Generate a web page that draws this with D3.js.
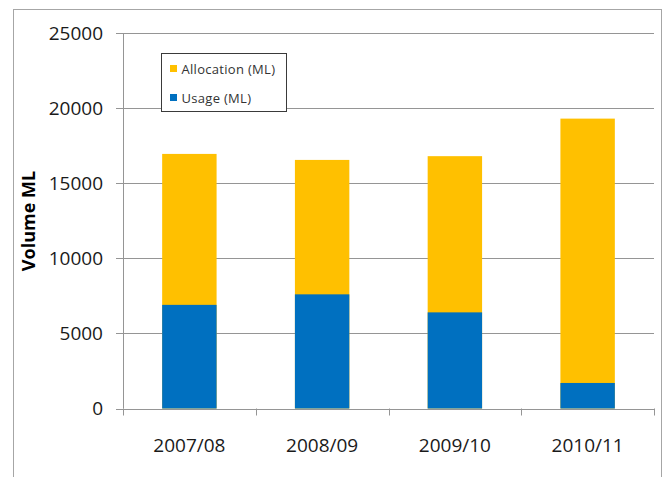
<!DOCTYPE html>
<html>
<head>
<meta charset="utf-8">
<script src="https://cdn.jsdelivr.net/npm/d3@7"></script>
<style>
	body { margin: 0; background: #fff; }
	svg { display: block; font-family: "Open Sans", sans-serif; }
</style>
</head>
<body>
<svg id="chart" width="669" height="477"></svg>
<script>
var years = ["2007/08", "2008/09", "2009/10", "2010/11"];
var allocation = [16950, 16550, 16800, 19300];
var usage = [6900, 7600, 6400, 1700];
var yTicks = [0, 5000, 10000, 15000, 20000, 25000];
var legendNames = ["Allocation (ML)", "Usage (ML)"];

function chart(){
	var svg = d3.select("#chart");

	var margin = {top: 33, left: 123, right: 15, bottom: 68.5},
	width = 654 - margin.left,
	height = 408.5 - margin.top;

	// outer frame
	svg.append("rect")
	.attr("x", 13.5).attr("y", 9.5)
	.attr("width", 648).attr("height", 500)
	.attr("fill", "none")
	.attr("stroke", "#a6a6a6");

	var g = svg.append("g")
	.attr("transform", "translate(" + margin.left + "," + margin.top + ")");

	var x = d3.scaleBand()
	.domain(years)
	.range([0, width])
	.paddingInner(0.59)
	.paddingOuter(0.295);

	var y = d3.scaleLinear()
	.domain([0, 25000])
	.range([height, 0]);

	// gridlines
	g.selectAll(".grid")
	.data(yTicks)
	.enter().append("line")
	.attr("x1", -7).attr("x2", width)
	.attr("y1", function(d) { return Math.round(y(d)) + 0.5; })
	.attr("y2", function(d) { return Math.round(y(d)) + 0.5; })
	.attr("stroke", "#959595");

	g.selectAll(".ylab")
	.data(yTicks)
	.enter().append("text")
	.attr("x", -20)
	.attr("y", function(d) { return y(d); })
	.attr("dy", "0.35em")
	.attr("text-anchor", "end")
	.attr("font-size", 19)
	.attr("fill", "#1a1a1a")
	.text(function(d) { return d; });

	// y axis line
	g.append("line")
	.attr("x1", 0.5).attr("x2", 0.5)
	.attr("y1", 0).attr("y2", height)
	.attr("stroke", "#959595");

	// x axis ticks at band edges
	var edges = years.map(function(d) { return x(d) - x.step() * x.paddingInner() / 2; });
	edges.push(width);
	g.selectAll(".xtick")
	.data(edges)
	.enter().append("line")
	.attr("x1", function(d) { return Math.round(d) + 0.5; })
	.attr("x2", function(d) { return Math.round(d) + 0.5; })
	.attr("y1", height).attr("y2", height + 7)
	.attr("stroke", "#959595");

	g.selectAll(".xlab")
	.data(years)
	.enter().append("text")
	.attr("x", function(d) { return x(d) + x.bandwidth() / 2; })
	.attr("y", height + 37)
	.attr("dy", "0.35em")
	.attr("text-anchor", "middle")
	.attr("font-size", 19)
	.attr("fill", "#1a1a1a")
	.text(function(d) { return d; });

	// bars: allocation behind, usage in front
	g.selectAll(".alloc")
	.data(years)
	.enter().append("rect")
	.attr("x", function(d) { return x(d); })
	.attr("y", function(d, i) { return y(allocation[i]); })
	.attr("width", x.bandwidth())
	.attr("height", function(d, i) { return height - y(allocation[i]); })
	.attr("fill", "#ffc000");

	g.selectAll(".usage")
	.data(years)
	.enter().append("rect")
	.attr("x", function(d) { return x(d); })
	.attr("y", function(d, i) { return y(usage[i]); })
	.attr("width", x.bandwidth())
	.attr("height", function(d, i) { return height - y(usage[i]); })
	.attr("fill", "#0070c0");

	// y title
	svg.append("text")
	.attr("transform", "translate(35,221) rotate(-90)")
	.attr("text-anchor", "middle")
	.attr("font-size", 18)
	.attr("font-weight", "bold")
	.attr("fill", "#000")
	.text("Volume ML");

	// legend
	var legend = svg.append("g").attr("transform", "translate(161.5,53.5)");
	legend.append("rect")
	.attr("width", 125).attr("height", 58)
	.attr("fill", "#fff")
	.attr("stroke", "#3a3a3a");

	var colors = ["#ffc000", "#0070c0"];
	legendNames.forEach(function(name, i) {
		var row = legend.append("g").attr("transform", "translate(0," + (15.5 + i * 29) + ")");
		row.append("rect")
		.attr("x", 8.5).attr("y", -4)
		.attr("width", 7).attr("height", 7)
		.attr("fill", colors[i]);
		row.append("text")
		.attr("x", 20)
		.attr("y", 0)
		.attr("dy", "0.35em")
		.attr("font-size", 13)
		.attr("letter-spacing", 0.3)
		.attr("fill", "#333")
		.text(name);
	});
}

chart();
</script>
</body>
</html>
